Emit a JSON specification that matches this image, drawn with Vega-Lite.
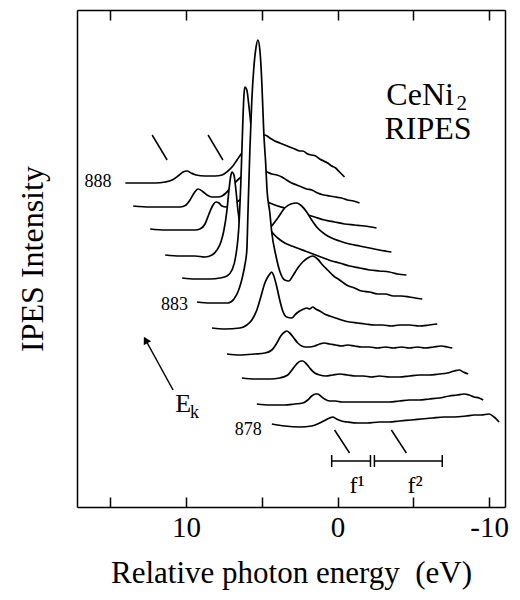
{
"$schema": "https://vega.github.io/schema/vega-lite/v6.json",
"width": 428, "height": 497, "autosize": "none",
"padding": {"left": 77, "right": 15, "top": 10, "bottom": 93},
"background": "white",
"config": {"view": {"stroke": null}, "font": "Liberation Serif", "axis": {"grid": false}},
"datasets": {
"curves": [
{"s":888,"x":14.01,"y":324},{"s":888,"x":13.03,"y":324},{"s":888,"x":12.04,"y":324},{"s":888,"x":11.38,"y":325},{"s":888,"x":10.92,"y":327},{"s":888,"x":10.53,"y":331},{"s":888,"x":10.2,"y":335},{"s":888,"x":9.93,"y":336},{"s":888,"x":9.67,"y":334},{"s":888,"x":9.34,"y":332},{"s":888,"x":8.75,"y":331},{"s":888,"x":8.09,"y":331},{"s":888,"x":7.63,"y":332},{"s":888,"x":7.24,"y":336},{"s":888,"x":6.91,"y":341},{"s":888,"x":6.64,"y":347},{"s":888,"x":6.32,"y":354},{"s":888,"x":5.92,"y":361},{"s":888,"x":5.46,"y":367},{"s":888,"x":5.0,"y":371},{"s":888,"x":4.8,"y":372},{"s":888,"x":4.47,"y":369},{"s":888,"x":4.14,"y":366},{"s":888,"x":3.82,"y":364},{"s":888,"x":3.49,"y":362},{"s":888,"x":3.16,"y":360},{"s":888,"x":2.83,"y":358},{"s":888,"x":2.5,"y":356},{"s":888,"x":2.3,"y":356},{"s":888,"x":1.97,"y":353},{"s":888,"x":1.71,"y":352},{"s":888,"x":1.45,"y":351},{"s":888,"x":1.18,"y":348},{"s":888,"x":0.92,"y":346},{"s":888,"x":0.66,"y":344},{"s":888,"x":0.39,"y":341},{"s":888,"x":0.13,"y":339},{"s":888,"x":-0.13,"y":335},{"s":888,"x":-0.46,"y":330},
{"s":887,"x":13.49,"y":301},{"s":887,"x":12.37,"y":300},{"s":887,"x":11.38,"y":300},{"s":887,"x":10.39,"y":300},{"s":887,"x":10.0,"y":302},{"s":887,"x":9.74,"y":307},{"s":887,"x":9.47,"y":314},{"s":887,"x":9.21,"y":318},{"s":887,"x":8.95,"y":316},{"s":887,"x":8.62,"y":312},{"s":887,"x":8.29,"y":310},{"s":887,"x":7.89,"y":310},{"s":887,"x":7.63,"y":311},{"s":887,"x":7.37,"y":314},{"s":887,"x":6.97,"y":321},{"s":887,"x":6.45,"y":329},{"s":887,"x":5.79,"y":335},{"s":887,"x":5.13,"y":337},{"s":887,"x":4.67,"y":335},{"s":887,"x":4.34,"y":333},{"s":887,"x":4.01,"y":332},{"s":887,"x":3.68,"y":330},{"s":887,"x":3.36,"y":327},{"s":887,"x":3.03,"y":324},{"s":887,"x":2.7,"y":322},{"s":887,"x":2.37,"y":320},{"s":887,"x":2.04,"y":318},{"s":887,"x":1.71,"y":317},{"s":887,"x":1.32,"y":314},{"s":887,"x":0.92,"y":312},{"s":887,"x":0.53,"y":311},{"s":887,"x":0.13,"y":310},{"s":887,"x":-0.26,"y":309},{"s":887,"x":-0.66,"y":307},{"s":887,"x":-1.05,"y":306},{"s":887,"x":-1.45,"y":304},
{"s":886,"x":12.37,"y":278},{"s":886,"x":11.38,"y":277},{"s":886,"x":10.39,"y":277},{"s":886,"x":9.41,"y":277},{"s":886,"x":9.08,"y":278},{"s":886,"x":8.75,"y":283},{"s":886,"x":8.49,"y":293},{"s":886,"x":8.22,"y":302},{"s":886,"x":8.03,"y":305},{"s":886,"x":7.83,"y":304},{"s":886,"x":7.63,"y":301},{"s":886,"x":7.37,"y":300},{"s":886,"x":6.97,"y":302},{"s":886,"x":6.45,"y":307},{"s":886,"x":5.79,"y":311},{"s":886,"x":5.13,"y":309},{"s":886,"x":4.47,"y":304},{"s":886,"x":4.14,"y":302},{"s":886,"x":3.49,"y":299},{"s":886,"x":2.83,"y":296},{"s":886,"x":2.17,"y":293},{"s":886,"x":1.51,"y":290},{"s":886,"x":0.86,"y":287},{"s":886,"x":0.2,"y":285},{"s":886,"x":-0.46,"y":283},{"s":886,"x":-1.12,"y":282},{"s":886,"x":-1.78,"y":281},{"s":886,"x":-2.57,"y":279},
{"s":885,"x":11.38,"y":252},{"s":885,"x":10.39,"y":251},{"s":885,"x":9.41,"y":251},{"s":885,"x":8.75,"y":250},{"s":885,"x":8.29,"y":252},{"s":885,"x":7.96,"y":257},{"s":885,"x":7.7,"y":265},{"s":885,"x":7.5,"y":277},{"s":885,"x":7.3,"y":297},{"s":885,"x":7.17,"y":317},{"s":885,"x":7.04,"y":332},{"s":885,"x":6.97,"y":335},{"s":885,"x":6.84,"y":332},{"s":885,"x":6.71,"y":317},{"s":885,"x":6.58,"y":297},{"s":885,"x":6.45,"y":283},{"s":885,"x":6.25,"y":274},{"s":885,"x":5.92,"y":271},{"s":885,"x":5.46,"y":271},{"s":885,"x":5.0,"y":273},{"s":885,"x":4.47,"y":279},{"s":885,"x":3.95,"y":289},{"s":885,"x":3.49,"y":299},{"s":885,"x":3.09,"y":303},{"s":885,"x":2.7,"y":304},{"s":885,"x":2.37,"y":301},{"s":885,"x":2.04,"y":295},{"s":885,"x":1.71,"y":287},{"s":885,"x":1.32,"y":279},{"s":885,"x":0.86,"y":273},{"s":885,"x":0.39,"y":269},{"s":885,"x":-0.13,"y":266},{"s":885,"x":-0.79,"y":263},{"s":885,"x":-1.45,"y":261},{"s":885,"x":-2.11,"y":259},{"s":885,"x":-2.76,"y":257},{"s":885,"x":-3.55,"y":255},
{"s":884,"x":10.26,"y":229},{"s":884,"x":9.41,"y":228},{"s":884,"x":8.42,"y":228},{"s":884,"x":7.76,"y":229},{"s":884,"x":7.3,"y":231},{"s":884,"x":6.97,"y":237},{"s":884,"x":6.71,"y":252},{"s":884,"x":6.51,"y":282},{"s":884,"x":6.38,"y":327},{"s":884,"x":6.25,"y":387},{"s":884,"x":6.18,"y":412},{"s":884,"x":6.12,"y":420},{"s":884,"x":5.99,"y":417},{"s":884,"x":5.86,"y":402},{"s":884,"x":5.72,"y":382},{"s":884,"x":5.59,"y":357},{"s":884,"x":5.39,"y":327},{"s":884,"x":5.13,"y":302},{"s":884,"x":4.74,"y":285},{"s":884,"x":4.34,"y":275},{"s":884,"x":3.95,"y":269},{"s":884,"x":3.49,"y":264},{"s":884,"x":3.03,"y":261},{"s":884,"x":2.5,"y":258},{"s":884,"x":1.97,"y":255},{"s":884,"x":1.45,"y":252},{"s":884,"x":0.92,"y":249},{"s":884,"x":0.39,"y":246},{"s":884,"x":-0.13,"y":244},{"s":884,"x":-0.79,"y":241},{"s":884,"x":-1.45,"y":239},{"s":884,"x":-2.11,"y":237},{"s":884,"x":-2.76,"y":236},{"s":884,"x":-3.42,"y":235},{"s":884,"x":-3.95,"y":233},{"s":884,"x":-4.54,"y":232},
{"s":883,"x":9.28,"y":205},{"s":883,"x":8.42,"y":204},{"s":883,"x":7.76,"y":204},{"s":883,"x":7.24,"y":204},{"s":883,"x":6.84,"y":208},{"s":883,"x":6.58,"y":215},{"s":883,"x":6.38,"y":224},{"s":883,"x":6.25,"y":232},{"s":883,"x":6.12,"y":242},{"s":883,"x":5.99,"y":257},{"s":883,"x":5.92,"y":292},{"s":883,"x":5.79,"y":357},{"s":883,"x":5.66,"y":407},{"s":883,"x":5.53,"y":439},{"s":883,"x":5.39,"y":459},{"s":883,"x":5.26,"y":467},{"s":883,"x":5.13,"y":457},{"s":883,"x":5.0,"y":424},{"s":883,"x":4.93,"y":397},{"s":883,"x":4.87,"y":374},{"s":883,"x":4.74,"y":342},{"s":883,"x":4.67,"y":320},{"s":883,"x":4.47,"y":294},{"s":883,"x":4.34,"y":274},{"s":883,"x":4.08,"y":252},{"s":883,"x":3.82,"y":236},{"s":883,"x":3.49,"y":227},{"s":883,"x":3.22,"y":226},{"s":883,"x":2.96,"y":231},{"s":883,"x":2.63,"y":239},{"s":883,"x":2.3,"y":245},{"s":883,"x":1.97,"y":249},{"s":883,"x":1.64,"y":251},{"s":883,"x":1.32,"y":248},{"s":883,"x":0.99,"y":242},{"s":883,"x":0.66,"y":237},{"s":883,"x":0.26,"y":231},{"s":883,"x":-0.13,"y":227},{"s":883,"x":-0.59,"y":222},{"s":883,"x":-1.12,"y":219},{"s":883,"x":-1.58,"y":216},{"s":883,"x":-2.11,"y":215},{"s":883,"x":-2.63,"y":213},{"s":883,"x":-3.16,"y":213},{"s":883,"x":-3.68,"y":211},{"s":883,"x":-4.21,"y":211},{"s":883,"x":-4.74,"y":210},{"s":883,"x":-5.13,"y":209},{"s":883,"x":-5.59,"y":208},
{"s":882,"x":8.29,"y":179},{"s":882,"x":7.43,"y":178},{"s":882,"x":6.45,"y":179},{"s":882,"x":5.99,"y":182},{"s":882,"x":5.66,"y":187},{"s":882,"x":5.33,"y":197},{"s":882,"x":5.07,"y":210},{"s":882,"x":4.8,"y":224},{"s":882,"x":4.61,"y":230},{"s":882,"x":4.47,"y":233},{"s":882,"x":4.34,"y":235},{"s":882,"x":4.21,"y":231},{"s":882,"x":4.01,"y":220},{"s":882,"x":3.82,"y":207},{"s":882,"x":3.62,"y":196},{"s":882,"x":3.36,"y":190},{"s":882,"x":3.03,"y":189},{"s":882,"x":2.76,"y":193},{"s":882,"x":2.5,"y":196},{"s":882,"x":2.24,"y":198},{"s":882,"x":2.04,"y":199},{"s":882,"x":1.84,"y":198},{"s":882,"x":1.64,"y":200},{"s":882,"x":1.45,"y":198},{"s":882,"x":1.18,"y":196},{"s":882,"x":0.86,"y":193},{"s":882,"x":0.53,"y":191},{"s":882,"x":0.13,"y":189},{"s":882,"x":-0.26,"y":187},{"s":882,"x":-0.79,"y":185},{"s":882,"x":-1.32,"y":184},{"s":882,"x":-1.84,"y":183},{"s":882,"x":-2.43,"y":182},{"s":882,"x":-2.96,"y":182},{"s":882,"x":-3.55,"y":181},{"s":882,"x":-4.08,"y":182},{"s":882,"x":-4.74,"y":182},{"s":882,"x":-5.39,"y":181},{"s":882,"x":-6.05,"y":182},{"s":882,"x":-6.58,"y":183},
{"s":881,"x":7.3,"y":153},{"s":881,"x":6.45,"y":152},{"s":881,"x":5.46,"y":153},{"s":881,"x":4.8,"y":154},{"s":881,"x":4.34,"y":157},{"s":881,"x":4.01,"y":164},{"s":881,"x":3.75,"y":171},{"s":881,"x":3.49,"y":175},{"s":881,"x":3.36,"y":176},{"s":881,"x":3.16,"y":174},{"s":881,"x":2.89,"y":169},{"s":881,"x":2.63,"y":164},{"s":881,"x":2.37,"y":161},{"s":881,"x":2.11,"y":160},{"s":881,"x":1.84,"y":160},{"s":881,"x":1.51,"y":161},{"s":881,"x":1.18,"y":163},{"s":881,"x":0.86,"y":164},{"s":881,"x":0.53,"y":163},{"s":881,"x":0.13,"y":162},{"s":881,"x":-0.26,"y":161},{"s":881,"x":-0.66,"y":162},{"s":881,"x":-1.12,"y":161},{"s":881,"x":-1.58,"y":160},{"s":881,"x":-2.11,"y":160},{"s":881,"x":-2.63,"y":159},{"s":881,"x":-3.16,"y":160},{"s":881,"x":-3.68,"y":159},{"s":881,"x":-4.21,"y":160},{"s":881,"x":-4.74,"y":159},{"s":881,"x":-5.26,"y":160},{"s":881,"x":-5.79,"y":159},{"s":881,"x":-6.32,"y":160},{"s":881,"x":-6.84,"y":161},{"s":881,"x":-7.24,"y":160},{"s":881,"x":-7.57,"y":159},
{"s":880,"x":6.32,"y":129},{"s":880,"x":5.46,"y":128},{"s":880,"x":4.47,"y":128},{"s":880,"x":3.82,"y":129},{"s":880,"x":3.29,"y":132},{"s":880,"x":2.96,"y":138},{"s":880,"x":2.7,"y":143},{"s":880,"x":2.43,"y":146},{"s":880,"x":2.3,"y":146},{"s":880,"x":2.11,"y":144},{"s":880,"x":1.84,"y":139},{"s":880,"x":1.51,"y":134},{"s":880,"x":1.18,"y":132},{"s":880,"x":0.79,"y":131},{"s":880,"x":0.33,"y":132},{"s":880,"x":-0.13,"y":133},{"s":880,"x":-0.66,"y":132},{"s":880,"x":-1.18,"y":131},{"s":880,"x":-1.71,"y":131},{"s":880,"x":-2.24,"y":130},{"s":880,"x":-2.76,"y":131},{"s":880,"x":-3.42,"y":130},{"s":880,"x":-4.08,"y":130},{"s":880,"x":-4.74,"y":131},{"s":880,"x":-5.39,"y":132},{"s":880,"x":-6.05,"y":132},{"s":880,"x":-6.71,"y":133},{"s":880,"x":-7.24,"y":134},{"s":880,"x":-7.7,"y":136},{"s":880,"x":-8.03,"y":137},{"s":880,"x":-8.29,"y":135},{"s":880,"x":-8.62,"y":133},
{"s":879,"x":5.33,"y":103},{"s":879,"x":4.47,"y":102},{"s":879,"x":3.49,"y":102},{"s":879,"x":2.83,"y":103},{"s":879,"x":2.3,"y":104},{"s":879,"x":1.97,"y":107},{"s":879,"x":1.71,"y":111},{"s":879,"x":1.45,"y":113},{"s":879,"x":1.32,"y":113},{"s":879,"x":1.12,"y":111},{"s":879,"x":0.86,"y":108},{"s":879,"x":0.53,"y":106},{"s":879,"x":0.13,"y":106},{"s":879,"x":-0.26,"y":105},{"s":879,"x":-0.79,"y":105},{"s":879,"x":-1.45,"y":105},{"s":879,"x":-2.11,"y":105},{"s":879,"x":-2.76,"y":105},{"s":879,"x":-3.42,"y":105},{"s":879,"x":-4.08,"y":106},{"s":879,"x":-4.74,"y":107},{"s":879,"x":-5.39,"y":107},{"s":879,"x":-6.05,"y":108},{"s":879,"x":-6.71,"y":109},{"s":879,"x":-7.37,"y":111},{"s":879,"x":-7.89,"y":112},{"s":879,"x":-8.36,"y":113},{"s":879,"x":-8.68,"y":112},{"s":879,"x":-9.01,"y":110},{"s":879,"x":-9.34,"y":109},{"s":879,"x":-9.61,"y":107},
{"s":878,"x":4.34,"y":83},{"s":878,"x":3.49,"y":81},{"s":878,"x":2.5,"y":80},{"s":878,"x":1.71,"y":81},{"s":878,"x":1.18,"y":84},{"s":878,"x":0.79,"y":87},{"s":878,"x":0.53,"y":89},{"s":878,"x":0.33,"y":90},{"s":878,"x":0.07,"y":88},{"s":878,"x":-0.26,"y":86},{"s":878,"x":-0.66,"y":85},{"s":878,"x":-1.32,"y":84},{"s":878,"x":-1.97,"y":84},{"s":878,"x":-2.76,"y":85},{"s":878,"x":-3.42,"y":85},{"s":878,"x":-4.08,"y":86},{"s":878,"x":-4.87,"y":87},{"s":878,"x":-5.53,"y":88},{"s":878,"x":-6.25,"y":89},{"s":878,"x":-7.04,"y":90},{"s":878,"x":-7.7,"y":90},{"s":878,"x":-8.49,"y":91},{"s":878,"x":-9.01,"y":92},{"s":878,"x":-9.47,"y":92},{"s":878,"x":-10.0,"y":93},{"s":878,"x":-10.33,"y":90},{"s":878,"x":-10.66,"y":85}
]
},
"encoding": {
"x": {"field": "x", "type": "quantitative", "scale": {"domain": [17.2, -11.05], "nice": false, "zero": false}, "axis": null},
"y": {"field": "y", "type": "quantitative", "scale": {"domain": [0, 497], "nice": false, "zero": false}, "axis": null, "stack": null}
},
"layer": [
{"data": {"name": "curves"}, "layer": [
{"transform": [{"filter": "datum.s == 888"}], "layer": [{"mark": {"type": "area", "fill": "white", "interpolate": "monotone"}}, {"mark": {"type": "line", "color": "black", "strokeWidth": 1.7, "interpolate": "monotone"}}]},
{"transform": [{"filter": "datum.s == 887"}], "layer": [{"mark": {"type": "area", "fill": "white", "interpolate": "monotone"}}, {"mark": {"type": "line", "color": "black", "strokeWidth": 1.7, "interpolate": "monotone"}}]},
{"transform": [{"filter": "datum.s == 886"}], "layer": [{"mark": {"type": "area", "fill": "white", "interpolate": "monotone"}}, {"mark": {"type": "line", "color": "black", "strokeWidth": 1.7, "interpolate": "monotone"}}]},
{"transform": [{"filter": "datum.s == 885"}], "layer": [{"mark": {"type": "area", "fill": "white", "interpolate": "monotone"}}, {"mark": {"type": "line", "color": "black", "strokeWidth": 1.7, "interpolate": "monotone"}}]},
{"transform": [{"filter": "datum.s == 884"}], "layer": [{"mark": {"type": "area", "fill": "white", "interpolate": "monotone"}}, {"mark": {"type": "line", "color": "black", "strokeWidth": 1.7, "interpolate": "monotone"}}]},
{"transform": [{"filter": "datum.s == 883"}], "layer": [{"mark": {"type": "area", "fill": "white", "interpolate": "monotone"}}, {"mark": {"type": "line", "color": "black", "strokeWidth": 1.7, "interpolate": "monotone"}}]},
{"transform": [{"filter": "datum.s == 882"}], "layer": [{"mark": {"type": "area", "fill": "white", "interpolate": "monotone"}}, {"mark": {"type": "line", "color": "black", "strokeWidth": 1.7, "interpolate": "monotone"}}]},
{"transform": [{"filter": "datum.s == 881"}], "layer": [{"mark": {"type": "area", "fill": "white", "interpolate": "monotone"}}, {"mark": {"type": "line", "color": "black", "strokeWidth": 1.7, "interpolate": "monotone"}}]},
{"transform": [{"filter": "datum.s == 880"}], "layer": [{"mark": {"type": "area", "fill": "white", "interpolate": "monotone"}}, {"mark": {"type": "line", "color": "black", "strokeWidth": 1.7, "interpolate": "monotone"}}]},
{"transform": [{"filter": "datum.s == 879"}], "layer": [{"mark": {"type": "area", "fill": "white", "interpolate": "monotone"}}, {"mark": {"type": "line", "color": "black", "strokeWidth": 1.7, "interpolate": "monotone"}}]},
{"transform": [{"filter": "datum.s == 878"}], "layer": [{"mark": {"type": "area", "fill": "white", "interpolate": "monotone"}}, {"mark": {"type": "line", "color": "black", "strokeWidth": 1.7, "interpolate": "monotone"}}]}
]},
{"data": {"values": [
{"x": 12.24, "y": 372, "x2": 11.25, "y2": 347},
{"x": 8.55, "y": 372, "x2": 7.57, "y2": 347},
{"x": 0.2, "y": 77, "x2": -0.79, "y2": 54},
{"x": -3.55, "y": 77, "x2": -4.54, "y2": 54},
{"x": 0.39, "y": 46, "x2": -2.17, "y2": 46},
{"x": -2.43, "y": 46, "x2": -6.91, "y2": 46},
{"x": 0.39, "y": 52, "x2": 0.39, "y2": 40},
{"x": -2.17, "y": 52, "x2": -2.17, "y2": 40},
{"x": -2.43, "y": 52, "x2": -2.43, "y2": 40},
{"x": -6.91, "y": 52, "x2": -6.91, "y2": 40},
{"x": 10.86, "y": 117, "x2": 12.67, "y2": 167}
]},
"mark": {"type": "rule", "color": "black", "strokeWidth": 1.5},
"encoding": {"x2": {"field": "x2"}, "y2": {"field": "y2"}}},
{"data": {"values": [{"x": 12.67, "y": 167}]},
"mark": {"type": "point", "shape": "triangle-up", "filled": true, "color": "black", "opacity": 1, "size": 70, "angle": 331}},
{"data": {"values": [{"t": "888", "x": 14.93, "y": 325}, {"t": "883", "x": 9.87, "y": 202}, {"t": "878", "x": 5.0, "y": 77}]},
"mark": {"type": "text", "align": "right", "baseline": "middle", "fontSize": 18, "font": "Liberation Serif", "color": "black"},
"encoding": {"text": {"field": "t"}}},
{"data": {"values": [{"t": "CeNi", "x": -3.22, "y": 402}, {"t": "RIPES", "x": -3.09, "y": 368}]},
"mark": {"type": "text", "align": "left", "baseline": "alphabetic", "fontSize": 32, "font": "Liberation Serif", "color": "black"},
"encoding": {"text": {"field": "t"}}},
{"data": {"values": [{"t": "2", "x": -7.85, "y": 397}]},
"mark": {"type": "text", "align": "left", "baseline": "alphabetic", "fontSize": 21, "font": "Liberation Serif", "color": "black"},
"encoding": {"text": {"field": "t"}}},
{"data": {"values": [{"t": "E", "x": 10.72, "y": 95}]},
"mark": {"type": "text", "align": "left", "baseline": "alphabetic", "fontSize": 26, "font": "Liberation Serif", "color": "black"},
"encoding": {"text": {"field": "t"}}},
{"data": {"values": [{"t": "k", "x": 9.74, "y": 89}]},
"mark": {"type": "text", "align": "left", "baseline": "alphabetic", "fontSize": 18, "font": "Liberation Serif", "color": "black"},
"encoding": {"text": {"field": "t"}}},
{"data": {"values": [{"t": "f¹", "x": -0.79, "y": 14}, {"t": "f²", "x": -4.61, "y": 14}]},
"mark": {"type": "text", "align": "left", "baseline": "alphabetic", "fontSize": 24, "font": "Liberation Serif", "color": "black"},
"encoding": {"text": {"field": "t"}}},
{"data": {"values": [{"x": 0, "y": 0}]},
"mark": {"type": "point", "opacity": 0},
"encoding": {
"x": {"field": "x", "type": "quantitative", "scale": {"domain": [17.2, -11.05], "nice": false, "zero": false},
"axis": {"orient": "bottom", "values": [15, 10, 5, 0, -5, -10], "tickSize": -10, "tickWidth": 1.5, "tickColor": "black", "domainColor": "black", "domainWidth": 1.5,
"labelExpr": "datum.value == 10 ? '10' : datum.value == 0 ? '0' : datum.value == -10 ? '-10' : ''",
"labelFont": "Liberation Serif", "labelFontSize": 29, "labelColor": "black", "labelPadding": 16, "labelFlush": false, "labelOverlap": false,
"title": "Relative photon energy\u00a0 (eV)", "titleFont": "Liberation Serif", "titleFontSize": 31, "titleFontWeight": "normal", "titleColor": "black", "titlePadding": 16, "zindex": 1, "grid": false}},
"y": {"field": "y", "type": "quantitative", "scale": {"domain": [0, 497], "nice": false, "zero": false},
"axis": {"orient": "left", "domain": true, "domainColor": "black", "domainWidth": 1.5, "ticks": false, "labels": false,
"title": "IPES Intensity", "titleFont": "Liberation Serif", "titleFontSize": 32, "titleFontWeight": "normal", "titleColor": "black", "titlePadding": 28, "zindex": 1, "grid": false}}
}},
{"data": {"values": [{"x": 0, "y": 0}]},
"mark": {"type": "point", "opacity": 0},
"encoding": {
"x": {"field": "x", "type": "quantitative", "scale": {"domain": [17.2, -11.05], "nice": false, "zero": false},
"axis": {"orient": "top", "values": [15, 10, 5, 0, -5, -10], "tickSize": -10, "tickWidth": 1.5, "tickColor": "black", "domainColor": "black", "domainWidth": 1.5, "labels": false, "title": null, "zindex": 1, "grid": false}},
"y": {"field": "y", "type": "quantitative", "scale": {"domain": [0, 497], "nice": false, "zero": false},
"axis": {"orient": "right", "domainColor": "black", "domainWidth": 1.5, "ticks": false, "labels": false, "title": null, "zindex": 1, "grid": false}}
}}
],
"resolve": {"axis": {"x": "independent", "y": "independent"}}
}
